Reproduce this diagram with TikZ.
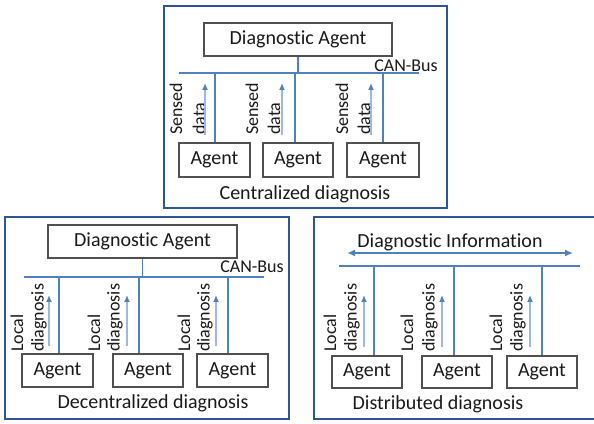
\documentclass[tikz,border=0pt]{standalone}
\usepackage{fontspec}
\setmainfont{Carlito}[Ligatures=NoCommon]
\usetikzlibrary{arrows.meta}
\newdimen\px \px=0.75pt
\definecolor{framec}{HTML}{2F5597}
\definecolor{linec}{HTML}{4F81BD}
\definecolor{shaftc}{HTML}{9DB9DF}
\definecolor{boxc}{HTML}{505050}
\tikzset{
  frame/.style={draw=framec, line width=2\px},
  box/.style={draw=boxc, line width=1.3\px, inner sep=0, font=\fontsize{15}{18}\selectfont, text=black!90},
  busline/.style={draw=linec, line width=2\px},
  conn/.style={draw=linec, line width=1.8\px},
  upar/.style={draw=shaftc, line width=1.6\px, -{Latex[length=5.25pt,width=4.5pt,color=linec]}},
  rlab/.style={rotate=90, anchor=west, inner sep=0, font=\fontsize{13.5}{15}\selectfont, text=black!90},
  captext/.style={anchor=base, inner sep=0, font=\fontsize{15}{18}\selectfont, text=black!90},
  buslab/.style={anchor=base, inner sep=0, font=\fontsize{13.5}{15}\selectfont, text=black!90}
}
\begin{document}
\begin{tikzpicture}[x=\px, y=-\px]
\clip (0,0) rectangle (594,424);
\useasboundingbox (0,0) rectangle (594,424);
\fill[white] (0,0) rectangle (594,424);

% ---------- Centralized ----------
\draw[frame] (164,6) rectangle (447,208);
\node[box, minimum width=188\px, minimum height=33\px] (cda) at (298,39.5) {Diagnostic Agent};
\coordinate (cbl) at (179,73);
\coordinate (cbr) at (419,73);
\draw[busline] (cbl) -- (cbr);
\draw[conn] (cda.south) -- (cda.south |- cbl);
\node[buslab] (ccan) at (406,71.5) {CAN-Bus};
\node[box, minimum width=71\px, minimum height=34\px] (ca1) at (214.5,160) {Agent};
\node[box, minimum width=70\px, minimum height=34\px] (ca2) at (298,160) {Agent};
\node[box, minimum width=72\px, minimum height=34\px] (ca3) at (383,160) {Agent};
\draw[conn] ([xshift=0.5\px]ca1.north) -- ([xshift=0.5\px]ca1.north |- cbl);
\draw[conn] ([xshift=-3\px]ca2.north) -- ([xshift=-3\px]ca2.north |- cbl);
\draw[conn] (ca3.north) -- (ca3.north |- cbl);
\node[rlab] (cs1) at (176,135) {Sensed};
\node[rlab] (cd1) at (199,135) {data};
\node[rlab] (cs2) at (252,135) {Sensed};
\node[rlab] (cd2) at (274,135) {data};
\node[rlab] (cs3) at (342,135) {Sensed};
\node[rlab] (cd3) at (364,135) {data};
\coordinate (cr1a) at (205,135); \coordinate (cr1b) at (205,83);
\coordinate (cr2a) at (282,135); \coordinate (cr2b) at (282,83);
\coordinate (cr3a) at (371,135); \coordinate (cr3b) at (371,83);
\draw[upar] (cr1a) -- (cr1b);
\draw[upar] (cr2a) -- (cr2b);
\draw[upar] (cr3a) -- (cr3b);
\node[captext] (ccap) at (305,200) {Centralized diagnosis};

% ---------- Decentralized ----------
\draw[frame] (5,217) rectangle (289,419);
\node[box, minimum width=189\px, minimum height=33\px] (dda) at (142.5,241.5) {Diagnostic Agent};
\coordinate (dbl) at (24,277);
\coordinate (dbr) at (264,277);
\draw[busline] (dbl) -- (dbr);
\draw[conn] (dda.south) -- (dda.south |- dbl);
\node[buslab] (dcan) at (252,273) {CAN-Bus};
\node[box, minimum width=71\px, minimum height=33\px] (da1) at (57.5,370.5) {Agent};
\node[box, minimum width=70\px, minimum height=33\px] (da2) at (148,370.5) {Agent};
\node[box, minimum width=71\px, minimum height=33\px] (da3) at (232.5,370.5) {Agent};
\draw[conn] ([xshift=1.5\px]da1.north) -- ([xshift=1.5\px]da1.north |- dbl);
\draw[conn] ([xshift=-9\px]da2.north) -- ([xshift=-9\px]da2.north |- dbl);
\draw[conn] ([xshift=-4.5\px]da3.north) -- ([xshift=-4.5\px]da3.north |- dbl);
\node[rlab] (dl1) at (17,352) {Local};
\node[rlab] (dg1) at (39,352) {diagnosis};
\node[rlab] (dl2) at (94,352) {Local};
\node[rlab] (dg2) at (115,352) {diagnosis};
\node[rlab] (dl3) at (184,352) {Local};
\node[rlab] (dg3) at (205,352) {diagnosis};
\coordinate (dr1a) at (49,346); \coordinate (dr1b) at (49,295);
\coordinate (dr2a) at (127,346); \coordinate (dr2b) at (127,295);
\coordinate (dr3a) at (216,346); \coordinate (dr3b) at (216,295);
\draw[upar] (dr1a) -- (dr1b);
\draw[upar] (dr2a) -- (dr2b);
\draw[upar] (dr3a) -- (dr3b);
\node[captext] (dcap) at (153,409) {Decentralized diagnosis};

% ---------- Distributed ----------
\draw[frame] (314,217) rectangle (600,419);
\node[captext] (rinfo) at (450,248) {Diagnostic Information};
\coordinate (ril) at (347,253);
\coordinate (rir) at (573,253);
\draw[draw=linec, line width=2\px, {Latex[length=6pt,width=5.25pt]}-{Latex[length=6pt,width=5.25pt]}] (ril) -- (rir);
\coordinate (rbl) at (339,266);
\coordinate (rbr) at (580,266);
\draw[busline] (rbl) -- (rbr);
\node[box, minimum width=70\px, minimum height=32\px] (ra1) at (367,372) {Agent};
\node[box, minimum width=70\px, minimum height=32\px] (ra2) at (457,372) {Agent};
\node[box, minimum width=70\px, minimum height=32\px] (ra3) at (542,372) {Agent};
\draw[conn] ([xshift=7\px]ra1.north) -- ([xshift=7\px]ra1.north |- rbl);
\draw[conn] ([xshift=-3\px]ra2.north) -- ([xshift=-3\px]ra2.north |- rbl);
\draw[conn] (ra3.north) -- (ra3.north |- rbl);
\node[rlab] (rl1) at (330,352) {Local};
\node[rlab] (rg1) at (352,352) {diagnosis};
\node[rlab] (rl2) at (407,352) {Local};
\node[rlab] (rg2) at (430,352) {diagnosis};
\node[rlab] (rl3) at (496,352) {Local};
\node[rlab] (rg3) at (518,352) {diagnosis};
\coordinate (rr1a) at (364,347); \coordinate (rr1b) at (364,295);
\coordinate (rr2a) at (442,347); \coordinate (rr2b) at (442,295);
\coordinate (rr3a) at (530,347); \coordinate (rr3b) at (530,295);
\draw[upar] (rr1a) -- (rr1b);
\draw[upar] (rr2a) -- (rr2b);
\draw[upar] (rr3a) -- (rr3b);
\node[captext] (rcap) at (438,410) {Distributed diagnosis};
\end{tikzpicture}
\end{document}
